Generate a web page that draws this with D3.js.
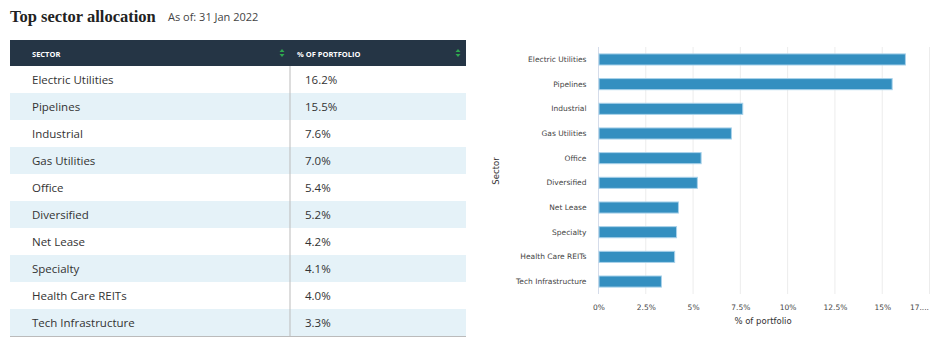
<!DOCTYPE html>
<html lang="en">
<head>
<meta charset="UTF-8">
<title>Top sector allocation</title>
<script src="https://cdn.jsdelivr.net/npm/d3@7"></script>
<style>
    body { margin: 0; background: #fff; }
    svg { display: block; }
</style>
</head>
<body>
<script>
    // data
    var sectors = ["Electric Utilities", "Pipelines", "Industrial", "Gas Utilities", "Office",
                   "Diversified", "Net Lease", "Specialty", "Health Care REITs", "Tech Infrastructure"];
    var weights = [16.2, 15.5, 7.6, 7.0, 5.4, 5.2, 4.2, 4.1, 4.0, 3.3];
    var xTicks = [0, 2.5, 5, 7.5, 10, 12.5, 15, 17.5];
    var xTickLabels = ["0%", "2.5%", "5%", "7.5%", "10%", "12.5%", "15%", "17...."];
    var headers = ["SECTOR", "% OF PORTFOLIO"];

    var rows = sectors.map(function(s, i){ return {sector: s, value: weights[i]}; });

    var svg = d3.select("body").append("svg")
        .attr("width", 939)
        .attr("height", 361);

    // title
    svg.append("text")
        .attr("x", 10).attr("y", 22)
        .attr("font-family", "'Liberation Serif', serif")
        .attr("font-weight", "bold")
        .attr("font-size", "16.5px")
        .attr("fill", "#222")
        .text("Top sector allocation");
    svg.append("text")
        .attr("x", 168).attr("y", 21)
        .attr("font-family", "'Open Sans', sans-serif")
        .attr("font-size", "11px")
        .attr("fill", "#444")
        .text("As of: 31 Jan 2022");

    // ---- table ----
    var tX = 10, tW = 456, headH = 26, rowH = 27, colX = 290;
    var table = svg.append("g").attr("transform", "translate(0,40)");

    table.append("rect")
        .attr("x", tX).attr("y", 0)
        .attr("width", tW).attr("height", headH)
        .attr("fill", "#253545");

    var headPos = [32, 297];
    table.selectAll(".head")
        .data(headers)
        .enter().append("text")
        .attr("class", "head")
        .attr("x", function(d, i){ return headPos[i]; })
        .attr("y", 17)
        .attr("font-family", "'Open Sans', sans-serif")
        .attr("font-weight", "bold")
        .attr("font-size", "7.5px")
        .attr("fill", "#fff")
        .text(function(d){ return d; });

    // sort arrows
    [282, 458].forEach(function(ax){
        table.append("path")
            .attr("d", "M" + (ax - 2.5) + ",12 L" + (ax + 2.5) + ",12 L" + ax + ",9 Z M" + (ax - 2.5) + ",14 L" + (ax + 2.5) + ",14 L" + ax + ",17 Z")
            .attr("fill", "#2fa84f");
    });

    var row = table.selectAll(".row")
        .data(rows)
        .enter().append("g")
        .attr("class", "row")
        .attr("transform", function(d, i){ return "translate(0," + (headH + i * rowH) + ")"; });

    row.append("rect")
        .attr("x", tX).attr("width", tW).attr("height", rowH)
        .attr("fill", function(d, i){ return i % 2 ? "#e5f2f8" : "#fff"; });

    row.append("text")
        .attr("x", 32).attr("y", 18)
        .attr("font-family", "'Open Sans', sans-serif")
        .attr("font-size", "11.5px")
        .attr("fill", "#333")
        .text(function(d){ return d.sector; });

    row.append("text")
        .attr("x", 305).attr("y", 18)
        .attr("font-family", "'Open Sans', sans-serif")
        .attr("font-size", "11.5px")
        .attr("fill", "#333")
        .text(function(d){ return d.value.toFixed(1) + "%"; });

    table.append("line")
        .attr("x1", colX).attr("x2", colX)
        .attr("y1", headH).attr("y2", headH + rows.length * rowH)
        .attr("stroke", "#bbb");
    table.append("line")
        .attr("x1", tX).attr("x2", tX + tW)
        .attr("y1", headH + rows.length * rowH + 0.5).attr("y2", headH + rows.length * rowH + 0.5)
        .attr("stroke", "#bbb");

    // ---- bar chart ----
    var x = d3.scaleLinear().domain([0, 17.5]).range([598.5, 929.5]);
    var y = d3.scaleBand().domain(sectors).range([47, 294]).paddingInner(0.55).paddingOuter(0.28);

    var chart = svg.append("g");
    var labelFont = "'DejaVu Sans', Verdana, sans-serif";

    chart.append("g")
        .selectAll("line")
        .data(xTicks.slice(1))
        .enter().append("line")
        .attr("x1", function(d){ return x(d); })
        .attr("x2", function(d){ return x(d); })
        .attr("y1", 47).attr("y2", 294)
        .attr("stroke", "#ececec");

    chart.append("line")
        .attr("x1", x(0)).attr("x2", x(0))
        .attr("y1", 47).attr("y2", 294)
        .attr("stroke", "#d5dcea");

    chart.selectAll(".bar")
        .data(rows)
        .enter().append("rect")
        .attr("class", "bar")
        .attr("x", x(0) + 0.5)
        .attr("y", function(d){ return y(d.sector); })
        .attr("width", function(d){ return x(d.value) - x(0); })
        .attr("height", y.bandwidth())
        .attr("fill", "#348fc0")
        .attr("stroke", "#a9d2ea")
        .attr("stroke-width", 1);

    var yAxis = chart.append("g")
        .attr("transform", "translate(" + x(0) + ",0)")
        .call(d3.axisLeft(y).tickSize(0).tickPadding(12));
    yAxis.select(".domain").remove();
    yAxis.selectAll("text")
        .attr("font-family", labelFont)
        .attr("font-size", "7.5px")
        .attr("fill", "#444");

    var xAxis = chart.append("g")
        .attr("transform", "translate(0,294)")
        .call(d3.axisBottom(x).tickValues(xTicks).tickSize(0).tickPadding(11)
            .tickFormat(function(d, i){ return xTickLabels[i]; }));
    xAxis.select(".domain").remove();
    xAxis.selectAll("text")
        .attr("font-family", labelFont)
        .attr("font-size", "7.5px")
        .attr("fill", "#444");
    // the last label is clipped at the edge, so it sits right-aligned
    xAxis.selectAll(".tick:last-of-type text")
        .attr("text-anchor", "end")
        .attr("dx", -1);

    chart.append("text")
        .attr("x", 763).attr("y", 324)
        .attr("text-anchor", "middle")
        .attr("font-family", labelFont)
        .attr("font-size", "8.5px")
        .attr("fill", "#333")
        .text("% of portfolio");

    chart.append("text")
        .attr("transform", "translate(499,171) rotate(-90)")
        .attr("text-anchor", "middle")
        .attr("font-family", labelFont)
        .attr("font-size", "8.5px")
        .attr("fill", "#333")
        .text("Sector");
</script>
</body>
</html>
